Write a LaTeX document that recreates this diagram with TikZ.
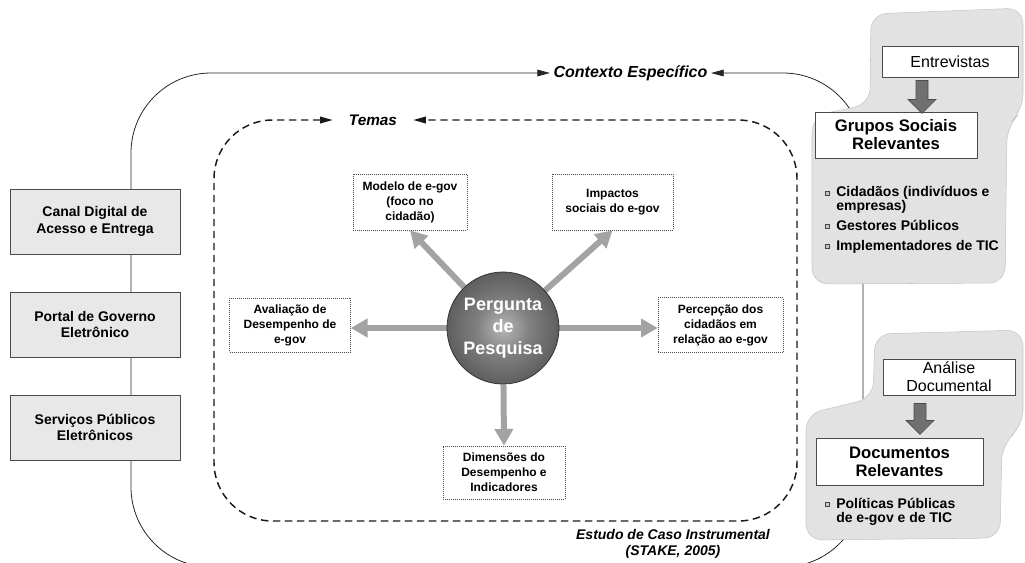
\documentclass[tikz,border=0pt]{standalone}
\usepackage{fontspec}
\setmainfont{Liberation Sans}
\usetikzlibrary{arrows.meta,calc}
\newdimen\pxu \pxu=0.75pt
\definecolor{boxgray}{HTML}{E8E8E8}
\definecolor{edgegray}{HTML}{4A4A4A}
\definecolor{spokegray}{HTML}{A3A3A3}
\definecolor{blobgray}{HTML}{E2E2E2}
\definecolor{blockgray}{HTML}{707070}
\pgfdeclareradialshading{sphere}{\pgfpoint{0bp}{0bp}}{rgb(0bp)=(0.72,0.72,0.72); rgb(12bp)=(0.5,0.5,0.5); rgb(30bp)=(0.32,0.32,0.32); rgb(50bp)=(0.22,0.22,0.22)}
\pgfdeclarelayer{bg}
\pgfsetlayers{bg,main}

\begin{document}
\begin{tikzpicture}[x=0.75pt,y=-0.75pt,
  channel/.style={draw=edgegray, fill=boxgray, line width=0.6pt,
    minimum width=170\pxu, minimum height=65\pxu, align=center, inner sep=0pt,
    font=\bfseries\fontsize{10.5}{12.5}\selectfont},
  theme/.style={draw=edgegray, densely dotted, fill=white, line width=0.5pt,
    align=center, inner sep=0pt, font=\bfseries\fontsize{9}{11.2}\selectfont},
  spoke/.style={spokegray, line width=4.5pt, -{Triangle[length=12.5pt,width=13.5pt]}},
  outerline/.style={black!85, line width=0.6pt,
    {Triangle[length=9.5pt,width=5pt]}-{Triangle[length=9.5pt,width=5pt]}},
  dashline/.style={black!90, line width=1.1pt, dash pattern=on 5.5pt off 3.5pt,
    {Triangle[length=9.5pt,width=5pt]}-{Triangle[length=9.5pt,width=5pt]}},
  label/.style={font=\bfseries\itshape\fontsize{12}{14}\selectfont, inner sep=0pt},
  blob/.style={fill=blobgray, draw=gray!45, line width=0.4pt, rounded corners=12pt},
  srcbox/.style={draw=edgegray, fill=white, line width=0.7pt, align=center, inner sep=0pt,
    font=\fontsize{12}{13.5}\selectfont},
  groupbox/.style={draw=edgegray, fill=white, line width=0.7pt, align=center, inner sep=0pt,
    font=\bfseries\fontsize{12.5}{13.5}\selectfont},
  blockarrow/.style={fill=blockgray, draw=black!70, line width=0.5pt},
  bulletsq/.style={draw=gray!55!black, fill=gray!45, minimum size=4.5\pxu, inner sep=0pt, line width=0.3pt},
  item/.style={anchor=base west, align=left, inner sep=0pt,
    font=\bfseries\fontsize{10.5}{9.8}\selectfont}
]
\useasboundingbox (0,0) rectangle (1025,562);

% context and theme labels
\node[label, inner xsep=2.5pt] (ctx) at (630.5,73) {Contexto Específico};
\node[label, font=\bfseries\itshape\fontsize{11.5}{14}\selectfont, inner xsep=12pt] (tem) at (373,120) {Temas};

% outer context frame (solid) and themes frame (dashed)
\draw[outerline, rounded corners=60pt]
  (ctx.west) -| (131,567) -| (863,73) -- (ctx.east);
\draw[dashline, rounded corners=44pt]
  (tem.west) -| (214,521) -| (797,120) -- (tem.east);

\node[label, font=\bfseries\itshape\fontsize{10.5}{11.5}\selectfont, align=center] (est) at (673,544)
  {Estudo de Caso Instrumental\\(STAKE, 2005)};

% data source regions
\path[blob] (812,284) -- (812,116) -- (870,104) -- (871,14) -- (1023,8) -- (1023,110)
  -- (1007,126) -- (1005,283) -- cycle;
\path[blob] (806,540) -- (806,414) -- (873,398) -- (875,334) -- (1023,330) -- (1023,426)
  -- (1002,444) -- (1000,538) -- cycle;

% delivery channels
\node[channel] (canal) at (95,221.5) {Canal Digital de\\Acesso e Entrega};
\node[channel] (portal) at (95,324.5) {Portal de Governo\\Eletrônico};
\node[channel] (serv) at (95,427.5) {Serviços Públicos\\Eletrônicos};

% themes
\node[theme, minimum width=114\pxu, minimum height=56\pxu] (mod) at (410,202) {Modelo de e-gov\\(foco no\\cidadão)};
\node[theme, minimum width=121\pxu, minimum height=56\pxu] (imp) at (612.5,202) {Impactos\\sociais do e-gov};
\node[theme, minimum width=121\pxu, minimum height=54\pxu] (av) at (290,325) {Avaliação de\\Desempenho de\\e-gov};
\node[theme, minimum width=125\pxu, minimum height=55\pxu] (perc) at (720.5,325) {Percepção dos\\cidadãos em\\relação ao e-gov};
\node[theme, minimum width=122\pxu, minimum height=53\pxu] (dim) at (504,472.5) {Dimensões do\\Desempenho e\\Indicadores};

% research question
\node[circle, minimum size=112\pxu, shading=sphere, draw=black!80, line width=0.6pt,
  text=white, align=center, inner sep=0pt,
  font=\bfseries\fontsize{13.5}{16.3}\selectfont] (q) at (503,328) {Pergunta\\de\\Pesquisa};

\begin{pgfonlayer}{bg}
  \draw[spoke] (q) -- (mod.south);
  \draw[spoke] (q) -- (imp.south);
  \draw[spoke] (q) -- (q -| av.east);
  \draw[spoke] (q) -- (q -| perc.west);
  \draw[spoke] (q) -- (dim.north);
\end{pgfonlayer}

% interviews -> relevant social groups
\node[srcbox, minimum width=136\pxu, minimum height=31\pxu] (ent) at (950,61.5) {Entrevistas};
\node[groupbox, minimum width=162\pxu, minimum height=46\pxu] (gru) at (896,135) {Grupos Sociais\\Relevantes};
\draw[blockarrow] (ent.south) ++(-34,3) -- ++(0,19) -- ++(-8,0) -- ++(14,14)
  -- ++(14,-14) -- ++(-8,0) -- ++(0,-19) -- cycle;

\node[bulletsq] (b1) at (827,193) {};
\node[item] (i1) at (836,210) {Cidadãos (indivíduos e\\empresas)};
\node[bulletsq] (b2) at (827,226) {};
\node[item] (i2) at (836,230) {Gestores Públicos};
\node[bulletsq] (b3) at (827,246) {};
\node[item] (i3) at (836,250) {Implementadores de TIC};

% documentary analysis -> relevant documents
\node[srcbox, minimum width=132\pxu, minimum height=36\pxu] (ana) at (949,377) {Análise\\Documental};
\node[groupbox, minimum width=167\pxu, minimum height=47\pxu] (doc) at (899.5,461.5) {Documentos\\Relevantes};
\draw[blockarrow] (ana.south) ++(-35,8) -- ++(0,17) -- ++(-8,0) -- ++(14,14)
  -- ++(14,-14) -- ++(-8,0) -- ++(0,-17) -- cycle;

\node[bulletsq] (b4) at (827,504) {};
\node[item, font=\bfseries\fontsize{10.5}{10.8}\selectfont] (i4) at (836,522.5) {Políticas Públicas\\de e-gov e de TIC};
\end{tikzpicture}
\end{document}
